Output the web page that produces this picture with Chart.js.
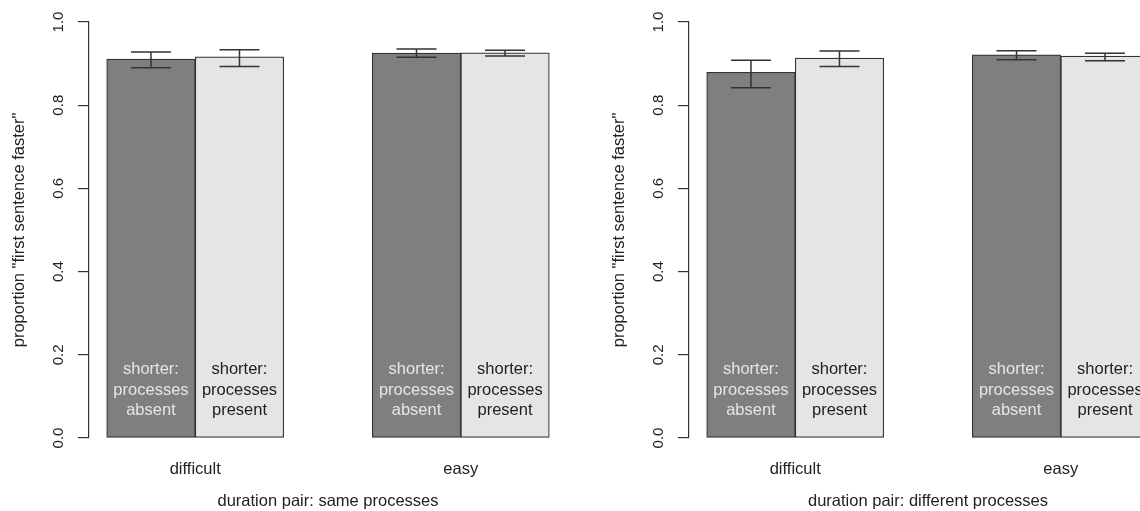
<!DOCTYPE html>
<html>
<head>
<meta charset="utf-8">
<script src="https://cdn.jsdelivr.net/npm/chart.js@4/dist/chart.umd.min.js"></script>
<style>
html, body { margin: 0; padding: 0; background: #fff; overflow: hidden; }
#wrap { position: relative; width: 1140px; height: 511px; overflow: hidden; }
canvas { position: absolute; top: 0; }
</style>
</head>
<body>
<div id="wrap">
  <canvas id="same" width="600" height="511" style="left:0"></canvas>
  <canvas id="different" width="600" height="511" style="left:600px"></canvas>
</div>
<script>
const categories = ['difficult', 'easy'];
const conditions = ['shorter:\nprocesses\nabsent', 'shorter:\nprocesses\npresent'];
const yTicks = [0, 0.2, 0.4, 0.6, 0.8, 1.0];

// duration pair: same processes
const sameAbsent = [0.911, 0.925];
const samePresent = [0.916, 0.926];
const sameAbsentLow = [0.890, 0.915];
const sameAbsentHigh = [0.928, 0.935];
const samePresentLow = [0.893, 0.918];
const samePresentHigh = [0.933, 0.932];

// duration pair: different processes
const diffAbsent = [0.879, 0.921];
const diffPresent = [0.913, 0.918];
const diffAbsentLow = [0.842, 0.909];
const diffAbsentHigh = [0.908, 0.931];
const diffPresentLow = [0.893, 0.907];
const diffPresentHigh = [0.930, 0.925];

Chart.defaults.font.family = '"Liberation Sans", Arial, sans-serif';
Chart.defaults.color = '#222';

const ink = '#333';

// error bars and the text inside each bar
const barExtras = {
    id: 'barExtras',
    afterDatasetsDraw(chart) {
        const ctx = chart.ctx;
        const y = chart.scales.y;
        ctx.save();
        chart.data.datasets.forEach((ds, i) => {
            const meta = chart.getDatasetMeta(i);
            meta.data.forEach((bar, j) => {
                // label
                const lines = ds.label.split('\n');
                const mid = y.getPixelForValue(0.115);
                ctx.fillStyle = ds.textColor;
                ctx.font = '16.5px "Liberation Sans", Arial, sans-serif';
                ctx.textAlign = 'center';
                ctx.textBaseline = 'middle';
                lines.forEach((t, k) => {
                    ctx.fillText(t, bar.x, mid + (k - 1) * 20.5);
                });
                // error bar
                const lo = y.getPixelForValue(ds.errLow[j]);
                const hi = y.getPixelForValue(ds.errHigh[j]);
                ctx.strokeStyle = ink;
                ctx.lineWidth = 1.5;
                ctx.beginPath();
                ctx.moveTo(bar.x, lo); ctx.lineTo(bar.x, hi);
                ctx.moveTo(bar.x - 20, lo); ctx.lineTo(bar.x + 20, lo);
                ctx.moveTo(bar.x - 20, hi); ctx.lineTo(bar.x + 20, hi);
                ctx.stroke();
            });
        });
        ctx.restore();
    }
};

function makePanel(id, title, absent, present, absentLow, absentHigh, presentLow, presentHigh) {
    const absentPts = absent.map((v, g) => ({x: g * 3 + 0.5, y: v}));
    const presentPts = present.map((v, g) => ({x: g * 3 + 1.5, y: v}));

    new Chart(document.getElementById(id), {
        type: 'bar',
        data: {
            datasets: [{
                label: conditions[0],
                data: absentPts,
                backgroundColor: '#7f7f7f',
                textColor: '#e6e6e6',
                errLow: absentLow,
                errHigh: absentHigh
            }, {
                label: conditions[1],
                data: presentPts,
                backgroundColor: '#e5e5e5',
                textColor: '#222',
                errLow: presentLow,
                errHigh: presentHigh
            }]
        },
        options: {
            responsive: false,
            animation: false,
            layout: { padding: { top: 22, right: 33, left: 0, bottom: 0 } },
            datasets: {
                bar: {
                    grouped: false,
                    barPercentage: 1,
                    categoryPercentage: 1,
                    borderWidth: 1.2,
                    borderColor: ink,
                    borderSkipped: false
                }
            },
            plugins: {
                legend: { display: false },
                tooltip: { enabled: false }
            },
            scales: {
                x: {
                    type: 'linear',
                    offset: false,
                    min: -0.2,
                    max: 5.2,
                    grid: { display: false, drawTicks: false },
                    border: { display: false },
                    afterBuildTicks: s => { s.ticks = categories.map((c, g) => ({value: g * 3 + 1})); },
                    afterFit: s => { s.height = 73; s.paddingLeft = 0; s.paddingRight = 0; },
                    ticks: {
                        padding: 22,
                        maxRotation: 0,
                        font: { size: 16.5 },
                        callback: v => categories[Math.round((v - 1) / 3)]
                    },
                    title: {
                        display: true,
                        text: title,
                        font: { size: 16.5 },
                        padding: { top: 0, bottom: 0 }
                    }
                },
                y: {
                    min: 0,
                    max: 1,
                    afterBuildTicks: s => { s.ticks = yTicks.map(v => ({value: v})); },
                    afterFit: s => { s.width = 89; s.paddingTop = 0; s.paddingBottom = 0; },
                    grid: {
                        drawOnChartArea: false,
                        drawTicks: true,
                        tickLength: 11,
                        tickColor: ink,
                        lineWidth: 1.2
                    },
                    border: { display: true, color: ink, width: 1.2 },
                    ticks: {
                        minRotation: 90,
                        maxRotation: 90,
                        crossAlign: 'center',
                        padding: 9,
                        font: { size: 15 },
                        callback: v => v.toFixed(1)
                    },
                    title: {
                        display: true,
                        text: 'proportion "first sentence faster"',
                        font: { size: 16.5 },
                        padding: { top: 10, bottom: 0 }
                    }
                }
            }
        },
        plugins: [barExtras]
    });
}

makePanel('same', 'duration pair: same processes',
    sameAbsent, samePresent, sameAbsentLow, sameAbsentHigh, samePresentLow, samePresentHigh);
makePanel('different', 'duration pair: different processes',
    diffAbsent, diffPresent, diffAbsentLow, diffAbsentHigh, diffPresentLow, diffPresentHigh);
</script>
</body>
</html>
